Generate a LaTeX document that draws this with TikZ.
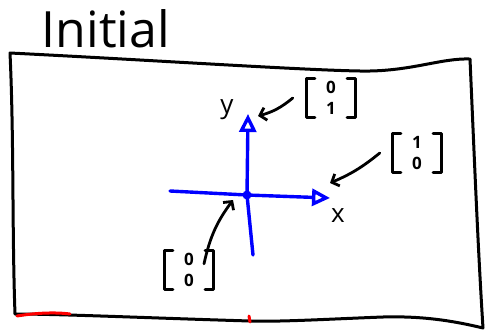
\documentclass[tikz,border=0pt]{standalone}
\usepackage{fontspec}
\setmainfont{Open Sans}
\usetikzlibrary{arrows.meta,positioning}
\tikzset{
  sketch/.style={line width=3pt, line cap=round, line join=round},
  axis/.style={line width=3.4pt, line cap=round, draw=blue, -{Triangle[open,length=18pt,width=17pt,line width=3.4pt]}},
  pointer/.style={line width=2.8pt, line cap=round, draw=black, -{Straight Barb[length=6pt,width=13pt,line width=2.8pt]}},
  vec/.style={minimum width=48pt, minimum height=38pt, align=center, font=\fontsize{17}{21}\selectfont\bfseries, inner sep=0pt},
  axlabel/.style={font=\fontsize{26}{26}\selectfont, inner sep=0pt},
}

\begin{document}
\begin{tikzpicture}[x=1pt,y=-1pt]
  \useasboundingbox (0,0) rectangle (485,330);
  % frame
  \draw[sketch] (10,53) .. controls (150,60) and (300,70) .. (360,71)
    .. controls (410,72) and (440,58) .. (470,59)
    .. controls (474,150) and (478,250) .. (483,328)
    .. controls (450,320) and (420,316) .. (383,317)
    .. controls (330,319) and (280,322) .. (250,321)
    .. controls (150,318) and (60,314) .. (15,314)
    .. controls (12,230) and (14,140) .. cycle;
  \draw[sketch, red] (17,316) .. controls (35,313) and (55,312) .. (70,314);
  \draw[sketch, red] (249,316) -- (250,322);
  \node[font=\fontsize{50}{50}\selectfont, inner sep=0pt] (title) at (106,29) {Initial};
  % axes
  \coordinate (o) at (247,195);
  \coordinate (xstart) at (170,191);
  \coordinate (xend) at (330,198);
  \coordinate (ystart) at (253,255);
  \coordinate (yend) at (248,114);
  \draw[axis] (xstart) -- (o) -- (xend);
  \draw[axis] (ystart) -- (o) -- (yend);
  \fill[blue] (o) circle (4.5pt);
  \node[axlabel] (ylab) at (227,110) {y};
  \node[axlabel] (xlab) at (338,216) {x};
  % vectors
  \node[vec] (v01) at (331,98) {0\\1};
  \node[vec] (v10) at (417,153) {1\\0};
  \node[vec] (v00) at (189,270) {0\\0};
  \foreach \v in {v01,v10,v00}{
    \draw[sketch] ([xshift=8pt]\v.north west) -- (\v.north west) -- (\v.south west) -- ([xshift=8pt]\v.south west);
    \draw[sketch] ([xshift=-8pt]\v.north east) -- (\v.north east) -- (\v.south east) -- ([xshift=-8pt]\v.south east);
  }
  \coordinate (p01) at (258,116);
  \coordinate (p10) at (330,183);
  \coordinate (p00) at (233,200);
  \draw[pointer] ([xshift=-14pt]v01.west) to[bend left=12] (p01);
  \draw[pointer] ([xshift=-13pt]v10.west) to[bend left=8] (p10);
  \draw[pointer] ([shift={(15pt,-13pt)}]v00.north) to[bend left=12] (p00);
\end{tikzpicture}
\end{document}
